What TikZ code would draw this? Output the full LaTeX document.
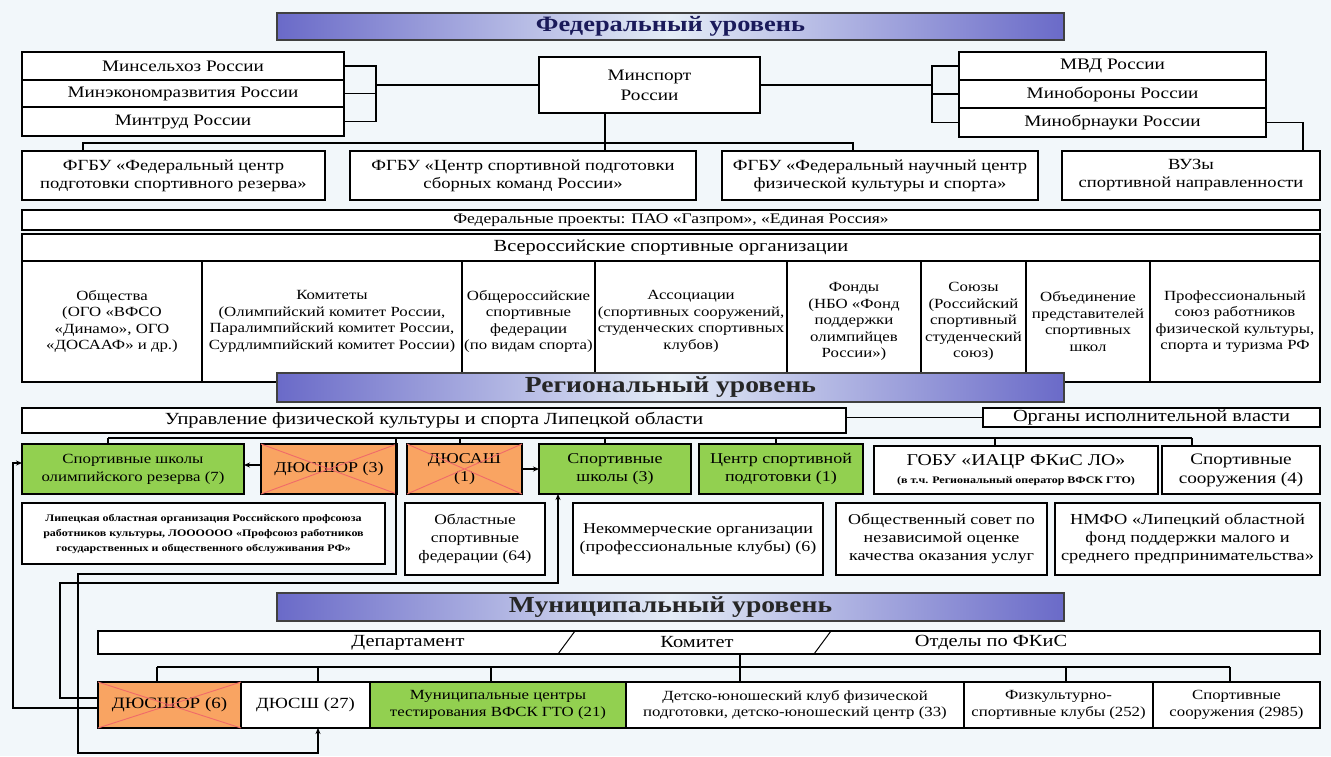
\documentclass[tikz,border=0pt]{standalone}
\usepackage{fontspec}
\setmainfont{Liberation Serif}[FakeStretch=1.2]
\usetikzlibrary{arrows.meta}

\definecolor{pagebg}{HTML}{F2F7FA}
\definecolor{levblue}{HTML}{6A6AC8}
\definecolor{levlight}{HTML}{E4ECF6}
\definecolor{sportgreen}{HTML}{92D050}
\definecolor{closedorange}{HTML}{F9A462}
\definecolor{crossred}{HTML}{F06A6A}
\definecolor{navytext}{HTML}{1A1A5A}
\newcommand{\setfs}[2]{\fontsize{#1}{#2}\selectfont}

\begin{document}
\begin{tikzpicture}[
    x=1pt, y=-1pt,
    box/.style={draw, line width=1.3pt, fill=white, align=center, inner sep=1pt, outer sep=0pt, font=\setfs{14}{16.5}},
    wh/.style 2 args={minimum width=#1pt, minimum height=#2pt},
    ministry/.style={box, font=\setfs{16}{18}},
    fgbu/.style={box, font=\setfs{15.5}{18}},
    regbox/.style={box, font=\setfs{15}{18}},
    sport/.style={regbox, fill=sportgreen},
    closed/.style={regbox, fill=closedorange},
    level/.style={draw=black!75, line width=1.3pt, left color=levblue, right color=levblue, middle color=levlight, inner sep=0pt, outer sep=0pt, font=\bfseries\setfs{23}{25}},
    link/.style={line width=1.3pt},
    arrow/.style={link, -{Stealth[length=6pt, width=5pt]}},
    xcross/.style={draw=crossred, line width=0.9pt},
    smallprint/.style={font=\bfseries\setfs{10}{15}}
]
\useasboundingbox (0,0) rectangle (1331,756);
\fill[pagebg] (0,0) rectangle (1331,756);

% Federal level
\node[level, wh={787}{27}, text=navytext, font=\bfseries\setfs{22}{24}] (fedbar) at (670.5,26.5) {Федеральный уровень};
\node[ministry, wh={322}{28}] (msh) at (183,66) {Минсельхоз России};
\node[ministry, wh={322}{27}] (mecon) at (183,93.5) {Минэкономразвития России};
\node[ministry, wh={322}{29}] (mtrud) at (183,121.5) {Минтруд России};
\node[ministry, wh={221}{56}, font=\setfs{16}{20}] (minsport) at (649.5,85) {Минспорт\\России};
\node[ministry, wh={307}{28}] (mvd) at (1112.5,66) {МВД России};
\node[ministry, wh={307}{28}] (mobor) at (1112.5,94) {Минобороны России};
\node[ministry, wh={307}{29}] (mobrn) at (1112.5,122.5) {Минобрнауки России};

\node[fgbu, wh={303}{49}] (fcpsr) at (173.5,175.5) {ФГБУ «Федеральный центр\\подготовки спортивного резерва»};
\node[fgbu, wh={346}{49}] (csp) at (523,175.5) {ФГБУ «Центр спортивной подготовки\\сборных команд России»};
\node[fgbu, wh={316}{49}] (fnc) at (880,175.5) {ФГБУ «Федеральный научный центр\\физической культуры и спорта»};
\node[fgbu, wh={258}{49}] (vuz) at (1191,175.5) {ВУЗы\\спортивной направленности};

\node[box, wh={1298}{20}, inner sep=0pt, font=\setfs{14.6}{16}] (fedproj) at (671,220) {Федеральные проекты: ПАО «Газпром», «Единая Россия»};

% All-Russian organisations
\node[box, wh={1298}{27}, font=\setfs{17}{19}] (allros) at (671,247.5) {Всероссийские спортивные организации};
\node[box, wh={180}{121}] (col1) at (112,321.5) {Общества\\(ОГО «ВФСО\\«Динамо», ОГО\\«ДОСААФ» и др.)};
\node[box, wh={260}{121}] (col2) at (332,321.5) {Комитеты\\(Олимпийский комитет России,\\Паралимпийский комитет России,\\Сурдлимпийский комитет России)};
\node[box, wh={133}{121}] (col3) at (528.5,321.5) {Общероссийские\\спортивные\\федерации\\(по видам спорта)};
\node[box, wh={192}{121}] (col4) at (691,321.5) {Ассоциации\\(спортивных сооружений,\\студенческих спортивных\\клубов)};
\node[box, wh={134}{121}] (col5) at (854,321.5) {Фонды\\(НБО «Фонд\\поддержки\\олимпийцев\\России»)};
\node[box, wh={105}{121}] (col6) at (973.5,321.5) {Союзы\\(Российский\\спортивный\\студенческий\\союз)};
\node[box, wh={124}{121}] (col7) at (1088,321.5) {Объединение\\представителей\\спортивных\\школ};
\node[box, wh={170}{121}] (col8) at (1235,321.5) {Профессиональный\\союз работников\\физической культуры,\\спорта и туризма РФ};

% Federal connectors
\coordinate (lbr) at (376,85);
\coordinate (rbr) at (932,85);
\draw[link] (msh.east) -| (lbr) |- (mtrud.east);
\draw[link] (mecon.east) -- (mecon.east -| lbr);
\draw[link] (lbr) -- (lbr -| minsport.west);
\draw[link] (mvd.west) -| (rbr) |- (mobrn.west);
\draw[link] (mobor.west) -- (mobor.west -| rbr);
\draw[link] (minsport.east) -- (rbr);
\draw[link] (mobrn.east) -| ([xshift=-17pt]vuz.north east);
\coordinate (fbusL) at (83,143);
\coordinate (fbusR) at (853,143);
\draw[link] (fbusL |- fcpsr.north) -- (fbusL) -- (fbusR) -- (fbusR |- fnc.north);
\draw[link] ([xshift=-44.5pt]minsport.south) -- ([xshift=-44.5pt]minsport.south |- csp.north);

% Regional level
\node[level, wh={787}{29}, text=black!85] (regbar) at (670.5,387.5) {Региональный уровень};
\node[box, wh={824}{25}, inner sep=0pt, font=\setfs{17}{19}] (uprav) at (434,420.5) {Управление физической культуры и спорта Липецкой области};
\node[box, wh={337}{19}, inner sep=0pt, font=\setfs{17}{19}] (organy) at (1151.5,417.5) {Органы исполнительной власти};

\node[sport, wh={222}{50}, font=\setfs{14}{18}] (sshor7) at (133,469) {Спортивные школы\\олимпийского резерва (7)};
\node[closed, wh={136}{50}] (dyu3) at (329,469) {ДЮСШОР (3)};
\node[closed, wh={115}{50}] (dyusash) at (464.5,469) {ДЮСАШ\\(1)};
\node[sport, wh={152}{50}] (ssh3) at (615,469) {Спортивные\\школы (3)};
\node[sport, wh={164}{50}] (csp1) at (781,469) {Центр спортивной\\подготовки (1)};
\node[box, wh={284}{48}, font=\setfs{16.5}{18}] (gobu) at (1016,470) {ГОБУ «ИАЦР ФКиС ЛО»\\{\bfseries\setfs{10}{13}(в т.ч. Региональный оператор ВФСК ГТО)}};
\node[box, wh={158}{48}, font=\setfs{16}{19}] (sooruzh4) at (1241,470) {Спортивные\\сооружения (4)};

\node[box, wh={363}{61}, smallprint] (profs) at (203.5,533.5) {Липецкая областная организация Российского профсоюза\\работников культуры, ЛОООООО «Профсоюз работников\\государственных и общественного обслуживания РФ»};
\node[regbox, wh={140}{72}, font=\setfs{14.5}{18}] (oblfed) at (475,539) {Областные\\спортивные\\федерации (64)};
\node[regbox, wh={250}{72}] (nko) at (698,539) {Некоммерческие организации\\(профессиональные клубы) (6)};
\node[regbox, wh={211}{72}] (obsov) at (941.5,539) {Общественный совет по\\независимой оценке\\качества оказания услуг};
\node[regbox, wh={265}{72}, font=\setfs{15.3}{18}] (nmfo) at (1187.5,539) {НМФО «Липецкий областной\\фонд поддержки малого и\\среднего предпринимательства»};

% Municipal level
\node[level, wh={787}{28}, text=black!85] (munbar) at (670.5,607) {Муниципальный уровень};
\node[box, wh={1222}{23}] (dept) at (709,642.5) {};
\node[font=\setfs{17}{19}] (depname) at (408,642.5) {Департамент};
\node[font=\setfs{17}{19}] (komname) at (697,642.5) {Комитет};
\node[font=\setfs{17}{19}] (otdname) at (991,642.5) {Отделы по ФКиС};
\draw[line width=1pt] (575,631) -- (558,654);
\draw[line width=1pt] (831,631) -- (814,654);

\node[closed, wh={143}{46}, font=\setfs{15.8}{18}] (dyu6) at (169.5,705) {ДЮСШОР (6)};
\node[box, wh={129}{46}, font=\setfs{15.5}{18}] (dyush27) at (305.5,705) {ДЮСШ (27)};
\node[sport, wh={256}{46}, font=\setfs{14}{17}] (mctest) at (498,705) {Муниципальные центры\\тестирования ВФСК ГТО (21)};
\node[box, wh={338}{46}] (dyuk) at (795,705) {Детско-юношеский клуб физической\\подготовки, детско-юношеский центр (33)};
\node[box, wh={189}{46}] (fsk) at (1058.5,705) {Физкультурно-\\спортивные клубы (252)};
\node[box, wh={167}{46}] (soor2985) at (1236.5,705) {Спортивные\\сооружения (2985)};

% closed schools
\foreach \nm in {dyu3, dyusash, dyu6}
  \draw[xcross] (\nm.north west) -- (\nm.south east) (\nm.south west) -- (\nm.north east);

% Regional connectors
\draw[link] (organy.west) -- (organy.west -| uprav.east);
\coordinate (rbusL) at (108,438);
\coordinate (rbusR) at (1192,438);
\draw[link] (rbusL) -- (rbusR);
\foreach \x/\nm in {108/sshor7, 460/dyusash, 605/ssh3, 776/csp1, 995/gobu, 1192/sooruzh4}
  \draw[link] (\x,438) -- (\x,438 |- \nm.north);
\draw[arrow] ([yshift=4pt]dyu3.west) -- ([yshift=4pt]sshor7.east);
\draw[arrow] (dyusash.east) -- (ssh3.west);

% Reorganisation routes
\coordinate (rdrop) at (396,438);
\draw[arrow] (rdrop) |- (78,574) |- (318,753) -- (318,753 |- dyush27.south);
\draw[arrow] ([yshift=7pt]dyu6.west) -| (60,583) -| ([xshift=-57pt]ssh3.south);
\draw[arrow] ([yshift=-3pt]dyu6.west) -| (13,463) -- ([yshift=6pt]sshor7.west);

% Municipal connectors
\coordinate (mbusL) at (157,667);
\coordinate (mbusR) at (1230,667);
\draw[link] (mbusL) -- (mbusR);
\foreach \x/\nm in {157/dyu6, 318/dyush27, 491/mctest, 1066/fsk, 1230/soor2985}
  \draw[link] (\x,667) -- (\x,667 |- \nm.north);
\draw[link] (dept.south -| 740,0) -- (dyuk.north -| 740,0);

\end{tikzpicture}
\end{document}
